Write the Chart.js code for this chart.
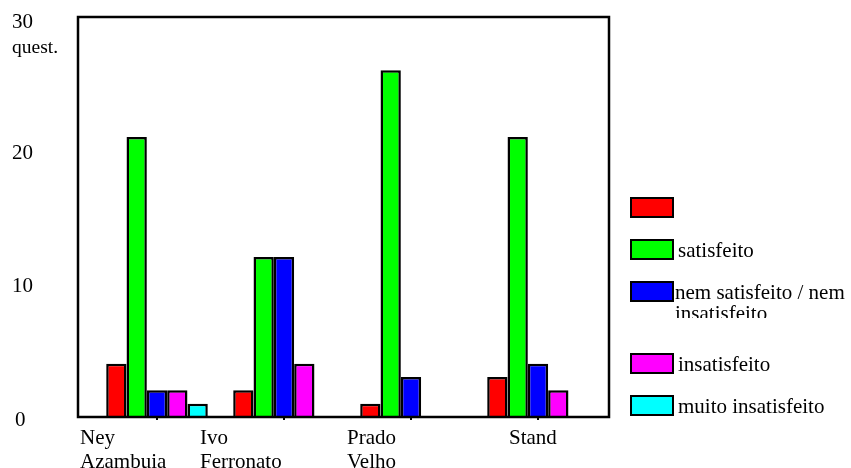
<!DOCTYPE html>
<html><head><meta charset="utf-8">
<script src="https://cdn.jsdelivr.net/npm/chart.js@4/dist/chart.umd.min.js"></script>
<style>html,body{margin:0;padding:0;background:#fff}#w{width:851px;height:468px}</style>
</head><body><div id="w"><canvas id="c"></canvas></div>
<script>
const categories = [["Ney","Azambuia"],["Ivo","Ferronato"],["Prado","Velho"],["Stand"]];
const seriesLabels = ["", "satisfeito", "nem satisfeito / nem\ninsatisfeito", "insatisfeito", "muito insatisfeito"];
const seriesColors = ["#ff0000","#00ff00","#0000ff","#ff00ff","#00ffff"];
const vBlank = [4, 2, 1, 3];
const vSatisfeito = [21, 12, 26, 21];
const vNem = [2, 12, 3, 4];
const vInsatisfeito = [2, 4, null, 2];
const vMuito = [1, null, null, null];
const yTicks = [0, 10, 20, 30];
const yUnit = "quest.";

const FONT = '21px "Liberation Serif", "Times New Roman", serif';
const seriesValues = [vBlank, vSatisfeito, vNem, vInsatisfeito, vMuito];

const decor = {
  id: 'decor',
  afterDatasetsDraw(chart, args, opts) {
    const ctx = chart.ctx, ca = chart.chartArea;
    const xs = chart.scales.x, ys = chart.scales.y;
    const L = ca.left + opts.frameLeft, R = ca.right + opts.frameRight;
    ctx.save();
    ctx.strokeStyle = '#000'; ctx.lineWidth = 2.5;
    ctx.strokeRect(L, ca.top, R - L, ca.bottom - ca.top);
    ctx.lineWidth = 2;
    categories.forEach((c, i) => {
      const x = xs.getPixelForValue(i);
      ctx.beginPath(); ctx.moveTo(x, ca.bottom); ctx.lineTo(x, ca.bottom + 3); ctx.stroke();
    });
    ctx.fillStyle = '#000'; ctx.font = FONT; ctx.textBaseline = 'middle'; ctx.textAlign = 'left';
    yTicks.forEach(v => {
      const y = ys.getPixelForValue(v);
      ctx.fillText(String(v), opts.yLabelX + (v === 0 ? 3 : 0), y + (v === yTicks[yTicks.length-1] ? 5 : 3));
    });
    ctx.font = '19.5px "Liberation Serif", serif';
    ctx.fillText(yUnit, opts.yLabelX, ys.getPixelForValue(yTicks[yTicks.length-1]) + 31);
    ctx.font = FONT;
    categories.forEach((c, i) => {
      const x = xs.getPixelForValue(i) + opts.xLabelOffsets[i];
      c.forEach((line, j) => ctx.fillText(line, x, ca.bottom + 21 + j * 24));
    });
    seriesLabels.forEach((lab, i) => {
      const top = opts.legendTops[i];
      ctx.fillStyle = seriesColors[i];
      ctx.fillRect(opts.legendX, top, 42, 19);
      ctx.strokeStyle = '#000'; ctx.lineWidth = 2;
      ctx.strokeRect(opts.legendX, top, 42, 19);
      ctx.fillStyle = '#000';
      const lines = lab.split('\n');
      ctx.save();
      ctx.beginPath(); ctx.rect(0, 0, 851, top + 36); ctx.clip();
      lines.forEach((ln, j) => ctx.fillText(ln, opts.legendX + 44 + (i === 2 ? 0 : 3), top + 11 + j * 21));
      ctx.restore();
    });
    ctx.restore();
  }
};

new Chart(document.getElementById('c'), {
  type: 'bar',
  data: {
    labels: categories.map(c => c.join(' ')),
    datasets: seriesValues.map((vals, i) => ({
      label: seriesLabels[i], data: vals,
      backgroundColor: seriesColors[i], borderColor: '#000', borderWidth: 2.5,
      categoryPercentage: 0.8, barPercentage: 1.0
    }))
  },
  options: {
    responsive: true, maintainAspectRatio: false, animation: false,
    layout: { padding: { left: 93.5, right: 249.5, top: 17, bottom: 51 } },
    plugins: {
      legend: { display: false }, tooltip: { enabled: false },
      decor: { frameLeft: -15.5, frameRight: 7.5, yLabelX: 12,
               xLabelOffsets: [-77, -84, -64, -29],
               legendX: 631, legendTops: [198, 240, 282, 354, 396] }
    },
    scales: {
      x: { display: false, offset: true },
      y: { display: false, min: 0, max: 30 }
    }
  },
  plugins: [decor]
});
</script></body></html>
